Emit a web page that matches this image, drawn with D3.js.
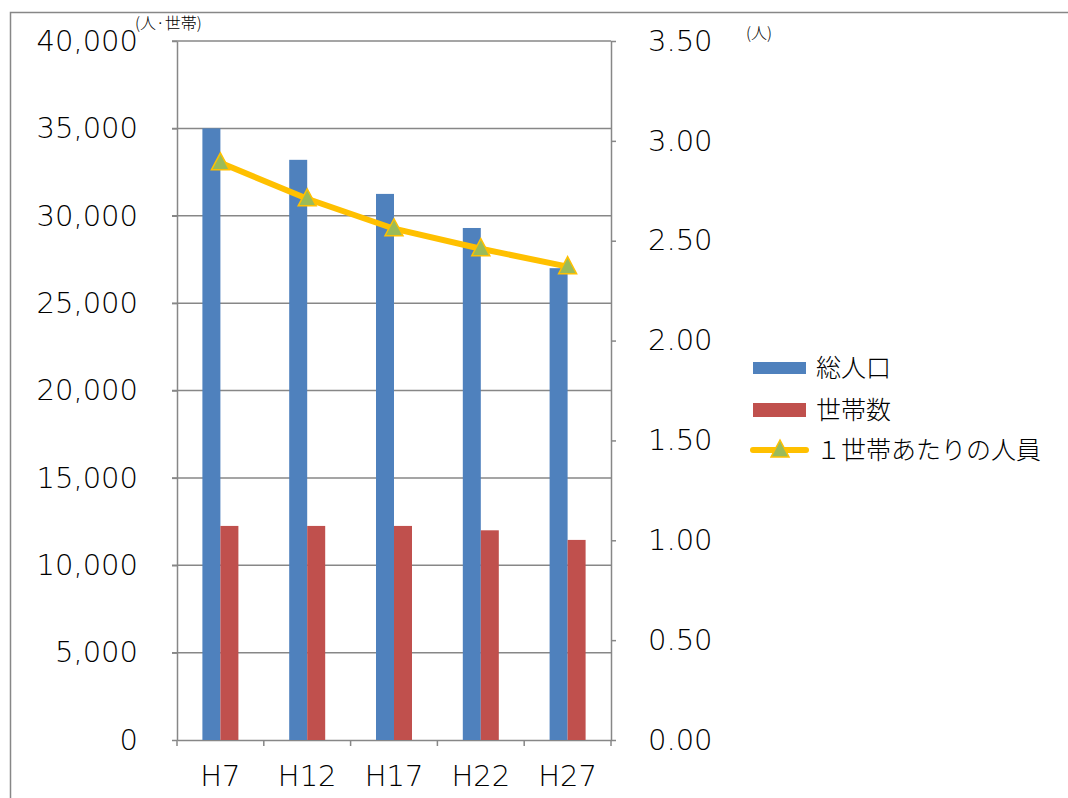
<!DOCTYPE html>
<html>
<head>
<meta charset="utf-8">
<script src="https://cdn.jsdelivr.net/npm/d3@7/dist/d3.min.js"></script>
<style>
  body { margin: 0; background: #fff; }
  svg text { font-family: "DejaVu Sans", "Noto Sans CJK JP", sans-serif; font-weight: 200; fill: #000; }
  svg text.jp { font-family: "Noto Sans CJK JP", sans-serif; font-weight: 300; }
</style>
</head>
<body>
<script>
// DATA
const categories = ["H7", "H12", "H17", "H22", "H27"];
const population = [35000, 33200, 31250, 29300, 27000];
const households = [12250, 12250, 12250, 12000, 11450];
const perHousehold = [2.89, 2.71, 2.56, 2.46, 2.37];
const leftTicks = [0, 5000, 10000, 15000, 20000, 25000, 30000, 35000, 40000];
const rightTicks = [0, 0.5, 1, 1.5, 2, 2.5, 3, 3.5];
const seriesNames = ["総人口", "世帯数", "１世帯あたりの人員"];

const width = 1068;
const height = 798;
const plot = { left: 177, right: 611, top: 41, bottom: 740 };
const barW = 18;
const BLUE = "#4F81BD";
const RED = "#C0504D";
const GOLD = "#FFC000";
const GREEN = "#9BBB59";
const GRID = "#878787";

const svg = d3.select("body").append("svg")
  .attr("width", width)
  .attr("height", height);

// OUTER FRAME
svg.append("path")
  .attr("d", `M10.5,${height + 2} V12.5 H${width + 2}`)
  .attr("fill", "none")
  .attr("stroke", GRID)
  .attr("stroke-width", 1.5);

// SCALES
const x = d3.scaleBand().domain(categories).range([plot.left, plot.right]);
const x1 = d3.scaleBand().domain(["pop", "hh"])
  .range([x.bandwidth() / 2 - barW, x.bandwidth() / 2 + barW]);
const yL = d3.scaleLinear().domain([0, 40000]).range([plot.bottom, plot.top]);
const yR = d3.scaleLinear().domain([0, 3.5]).range([plot.bottom, plot.top]);

// GRID
svg.append("g")
  .selectAll("line")
  .data(leftTicks.slice(1))
  .join("line")
  .attr("x1", plot.left - 5)
  .attr("x2", plot.right)
  .attr("y1", (d) => yL(d))
  .attr("y2", (d) => yL(d))
  .attr("stroke", GRID)
  .attr("stroke-width", 1.5);

// AXES
const styleAxis = (g) => {
  g.select(".domain").attr("stroke", GRID).attr("stroke-width", 1.5);
  g.selectAll(".tick line").attr("stroke", GRID).attr("stroke-width", 1.5);
  g.selectAll(".tick text").attr("font-size", 29).attr("fill", "#000")
    .attr("font-family", null);
};

svg.append("g")
  .attr("transform", `translate(${plot.left},0)`)
  .call(d3.axisLeft(yL).tickValues(leftTicks).tickFormat(d3.format(","))
    .tickSize(5).tickSizeOuter(0).tickPadding(34))
  .call(styleAxis);

svg.append("g")
  .attr("transform", `translate(${plot.right},0)`)
  .call(d3.axisRight(yR).tickValues(rightTicks).tickFormat(d3.format(".2f"))
    .tickSize(5).tickSizeOuter(0).tickPadding(32))
  .call(styleAxis);

const xAxis = svg.append("g")
  .attr("transform", `translate(0,${plot.bottom})`)
  .call(d3.axisBottom(x).tickSize(0).tickSizeOuter(0).tickPadding(20))
  .call(styleAxis);
xAxis.selectAll(".tick text").attr("dy", "0.9em");
xAxis.selectAll(".boundary")
  .data(d3.range(categories.length + 1))
  .join("line")
  .attr("class", "boundary")
  .attr("x1", (i) => plot.left + i * x.step())
  .attr("x2", (i) => plot.left + i * x.step())
  .attr("y1", 0)
  .attr("y2", 6)
  .attr("stroke", GRID)
  .attr("stroke-width", 1.5);

// BARS
const groups = svg.append("g")
  .selectAll("g")
  .data(categories)
  .join("g")
  .attr("transform", (d) => `translate(${x(d)},0)`);

groups.append("rect")
  .attr("x", x1("pop"))
  .attr("width", x1.bandwidth())
  .attr("y", (d, i) => yL(population[i]))
  .attr("height", (d, i) => yL(0) - yL(population[i]))
  .attr("fill", BLUE);

groups.append("rect")
  .attr("x", x1("hh"))
  .attr("width", x1.bandwidth())
  .attr("y", (d, i) => yL(households[i]))
  .attr("height", (d, i) => yL(0) - yL(households[i]))
  .attr("fill", RED);

// LINE
const cx = (d) => x(d) + x.bandwidth() / 2;
svg.append("path")
  .datum(categories)
  .attr("d", d3.line().x(cx).y((d, i) => yR(perHousehold[i])))
  .attr("fill", "none")
  .attr("stroke", GOLD)
  .attr("stroke-width", 6);

const triangle = "M0,-10 L9,7 L-9,7 Z";
svg.append("g")
  .selectAll("path")
  .data(categories)
  .join("path")
  .attr("d", triangle)
  .attr("transform", (d, i) => `translate(${cx(d)},${yR(perHousehold[i])})`)
  .attr("fill", GREEN)
  .attr("stroke", GOLD)
  .attr("stroke-width", 1.5);

// UNIT LABELS
svg.append("text").attr("class", "jp").attr("x", 135).attr("y", 29).attr("font-size", 16).text("(人·世帯)");
svg.append("text").attr("class", "jp").attr("x", 746).attr("y", 39).attr("font-size", 16).text("(人)");

// LEGEND
const legend = svg.append("g").attr("transform", "translate(753,0)");
const legendY = [368, 410, 450];

legend.append("rect").attr("x", 0).attr("y", legendY[0] - 6).attr("width", 53).attr("height", 12).attr("fill", BLUE);
legend.append("rect").attr("x", 0).attr("y", legendY[1] - 7).attr("width", 53).attr("height", 14).attr("fill", RED);
legend.append("line")
  .attr("x1", 0).attr("x2", 53)
  .attr("y1", legendY[2]).attr("y2", legendY[2])
  .attr("stroke", GOLD).attr("stroke-width", 6).attr("stroke-linecap", "round");
legend.append("path")
  .attr("d", triangle)
  .attr("transform", `translate(27,${legendY[2]})`)
  .attr("fill", GREEN)
  .attr("stroke", GOLD)
  .attr("stroke-width", 1.5);

legend.selectAll(".legend-text")
  .data(seriesNames)
  .join("text")
  .attr("class", "legend-text jp")
  .attr("x", 63)
  .attr("y", (d, i) => legendY[i])
  .attr("dy", "0.36em")
  .attr("font-size", 25)
  .text((d) => d);
</script>
</body>
</html>
